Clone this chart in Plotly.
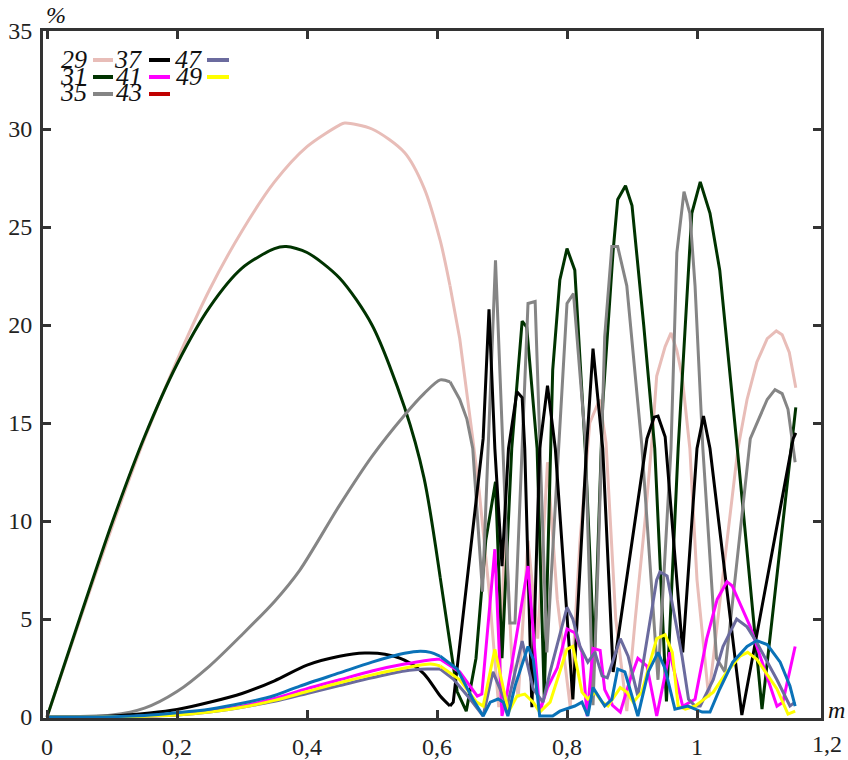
import plotly.graph_objects as go

# ---------------- data ----------------
x29 = [0, 0.05, 0.1, 0.15, 0.2, 0.25, 0.3, 0.35, 0.4, 0.45, 0.458, 0.5, 0.55, 0.58, 0.605, 0.62, 0.635, 0.655,
       0.665, 0.68, 0.69, 0.695, 0.705, 0.715, 0.725, 0.74, 0.755, 0.77, 0.785, 0.805, 0.82, 0.835, 0.85, 0.86,
       0.875, 0.892, 0.905, 0.92, 0.931, 0.938, 0.951, 0.96, 0.969, 0.977, 0.989, 1.0, 1.018, 1.035, 1.048,
       1.063, 1.077, 1.092, 1.108, 1.122, 1.131, 1.142, 1.152]
y29 = [0, 4.9, 9.7, 14.2, 18.2, 21.8, 24.8, 27.3, 29.1, 30.2, 30.3, 30.0, 28.8, 27.0, 24.3, 22.0, 19.3, 14.2,
       11.5, 6.5, 2.5, 0.5, 10, 3, 1, 9, 4, 13, 6, 0.5, 9, 15, 16.2, 14, 5, 0.3, 5, 10, 14.2,
       17.4, 18.9, 19.6, 18.7, 17.4, 13.7, 7, 1.0, 6, 9.5,
       13.7, 16.2, 18.1, 19.3, 19.7, 19.5, 18.6, 16.8]

x31 = [0, 0.05, 0.1, 0.15, 0.2, 0.25, 0.3, 0.35, 0.368, 0.4, 0.45, 0.5, 0.55, 0.58, 0.605, 0.631, 0.645,
       0.66, 0.675, 0.69, 0.70, 0.715, 0.731, 0.738, 0.754, 0.765, 0.778, 0.789, 0.80, 0.812, 0.828, 0.842,
       0.855, 0.871, 0.878, 0.89, 0.90, 0.918, 0.935, 0.953, 0.971, 0.992, 1.005, 1.02, 1.035, 1.062, 1.10, 1.152]
y31 = [0, 5.0, 9.9, 14.3, 18.0, 20.9, 22.9, 23.9, 24.0, 23.7, 22.4, 20.0, 15.8, 12.2, 7.1, 1.3, 0.3,
       3, 9, 12, 3, 13.7, 20.2, 19.9, 13.7, 1, 17.7, 22.3, 23.9, 22.8, 13.7, 3,
       16, 23.8, 26.4, 27.1, 26.1, 20, 13.7, 0.8, 13.7, 25.7, 27.3, 25.7, 22.8, 13.7, 0.4, 15.8]

x35 = [0, 0.1, 0.15, 0.2, 0.25, 0.3, 0.35, 0.389, 0.45, 0.5, 0.55, 0.58, 0.605, 0.62, 0.635, 0.646,
       0.655, 0.67, 0.69, 0.712, 0.72, 0.74, 0.751, 0.769, 0.80, 0.81, 0.828, 0.84, 0.848, 0.858, 0.869,
       0.878, 0.892, 0.915, 0.94, 0.96, 0.969, 0.98, 0.989, 0.997, 1.009, 1.03, 1.043, 1.082, 1.092, 1.108,
       1.12, 1.131, 1.14, 1.148, 1.151]
y35 = [0, 0.1, 0.45, 1.3, 2.6, 4.2, 5.9, 7.5, 10.8, 13.3, 15.4, 16.5, 17.2, 17.1, 16.2, 15.2,
       13.7, 6.4, 23.3, 4.8, 4.8, 21.1, 21.2, 3.3, 21.1, 21.6, 14.2, 0.6, 8, 19.4, 24.0,
       24.0, 22.0, 13.9, 1.9, 13.7, 23.7, 26.8, 25.7, 22.0, 13.7, 3, 2.3, 14.2, 15.0, 16.2,
       16.7, 16.5, 15.7, 13.7, 13.0]

x37 = [0, 0.1, 0.158, 0.2, 0.25, 0.3, 0.35, 0.4, 0.45, 0.489, 0.52, 0.55, 0.58, 0.605, 0.62, 0.625, 0.671,
       0.68, 0.689, 0.70, 0.71, 0.723, 0.731, 0.735, 0.746, 0.758, 0.77, 0.782, 0.809, 0.83, 0.84, 0.855,
       0.871, 0.923, 0.934, 0.94, 0.951, 0.978, 1.0, 1.01, 1.02, 1.069, 1.148, 1.152]
y37 = [0, 0.05, 0.2, 0.38, 0.75, 1.2, 1.85, 2.65, 3.1, 3.26, 3.2, 2.9, 2.2, 1.07, 0.56, 0.76, 14.2,
       20.8, 13.7, 7.7, 13.7, 16.6, 16.3, 13.7, 0.5, 13.7, 16.9, 13.7, 0.9, 13.7, 18.8, 13.7,
       2.3, 14.2, 15.3, 15.35, 14.3, 3.3, 13.7, 15.35, 13.7, 0.1, 14.2, 14.5]

x41 = [0, 0.1, 0.2, 0.25, 0.3, 0.35, 0.4, 0.45, 0.5, 0.55, 0.6, 0.605, 0.635, 0.662, 0.669, 0.689, 0.70,
       0.708, 0.74, 0.758, 0.77, 0.785, 0.80, 0.812, 0.823, 0.831, 0.84, 0.851, 0.858, 0.87, 0.882, 0.897,
       0.909, 0.923, 0.938, 0.958, 0.978, 0.997, 1.015, 1.031, 1.046, 1.054, 1.082, 1.123, 1.132, 1.151]
y41 = [0, 0.01, 0.12, 0.3, 0.55, 0.95, 1.45, 1.9, 2.35, 2.7, 2.95, 2.95, 2.3, 1.07, 1.17, 8.56, 0.05,
       1.27, 7.7, 0.25, 1.5, 2.5, 4.5, 4.3, 3.3, 0.05, 3.5, 3.4, 1.4, 0.6, 0.25, 1.9,
       3.0, 2.6, 0.05, 3.3, 0.55, 0.9, 4.0, 6.0, 6.9, 6.7, 4.6, 0.55, 0.75, 3.6]

x47 = [0, 0.1, 0.2, 0.25, 0.3, 0.35, 0.4, 0.45, 0.5, 0.55, 0.585, 0.605, 0.625, 0.651, 0.671, 0.686, 0.708,
       0.731, 0.748, 0.763, 0.774, 0.8, 0.809, 0.82, 0.832, 0.843, 0.854, 0.862, 0.882, 0.894, 0.909, 0.938,
       0.943, 0.954, 0.966, 0.977, 0.987, 0.997, 1.005, 1.025, 1.04, 1.061, 1.077, 1.092, 1.123, 1.143, 1.151]
y47 = [0, 0.01, 0.1, 0.25, 0.5, 0.8, 1.2, 1.6, 2.0, 2.35, 2.45, 2.45, 1.94, 0.92, 0.05, 2.3, 0.56,
       3.87, 1.43, 0.76, 2.3, 5.6, 5.0, 3.6, 2.8, 3.3, 2.1, 2.0, 4.0, 3.1, 1.07, 7.0,
       7.4, 7.2, 5.1, 3.1, 0.9, 0.56, 0.56, 1.9, 3.6, 5.0, 4.6, 3.8, 1.9, 0.56, 0.76]

x49 = [0, 0.1, 0.2, 0.25, 0.3, 0.35, 0.4, 0.45, 0.5, 0.55, 0.59, 0.605, 0.635, 0.661, 0.671, 0.689, 0.697,
       0.71, 0.723, 0.735, 0.748, 0.758, 0.774, 0.8, 0.809, 0.812, 0.823, 0.832, 0.843, 0.854, 0.863, 0.882,
       0.892, 0.902, 0.915, 0.938, 0.951, 0.962, 0.971, 0.982, 0.997, 1.005, 1.025, 1.046, 1.066, 1.078,
       1.092, 1.123, 1.14, 1.151]
y49 = [0, 0.01, 0.1, 0.25, 0.5, 0.85, 1.3, 1.75, 2.15, 2.5, 2.7, 2.6, 1.9, 0.76, 0.56, 3.46, 2.3,
       0.25, 1.07, 1.17, 0.76, 0.25, 0.76, 3.46, 3.6, 3.1, 1.27, 0.92, 1.27, 0.76, 0.56, 1.5,
       1.27, 0.76, 1.27, 4.0, 4.2, 3.3, 0.56, 0.4, 0.56, 0.76, 1.27, 2.3, 3.1, 3.3,
       2.95, 1.43, 0.15, 0.3]

xb = [0, 0.1, 0.15, 0.2, 0.25, 0.3, 0.35, 0.389, 0.45, 0.5, 0.55, 0.574, 0.59, 0.605, 0.631, 0.655, 0.671,
      0.682, 0.694, 0.702, 0.709, 0.72, 0.74, 0.748, 0.758, 0.778, 0.789, 0.812, 0.823, 0.832, 0.84, 0.858,
      0.869, 0.878, 0.889, 0.909, 0.925, 0.94, 0.951, 0.966, 0.986, 1.008, 1.02, 1.035, 1.055, 1.077,
      1.092, 1.108, 1.128, 1.143, 1.151]
yb = [0, 0.02, 0.08, 0.22, 0.4, 0.7, 1.1, 1.58, 2.25, 2.8, 3.25, 3.36, 3.3, 3.1, 2.45, 0.92, 0.05,
      0.76, 0.92, 0.76, 0.05, 1.58, 3.6, 2.95, 0.05, 0.05, 0.3, 0.56, 0.76, 0.05, 1.5, 0.56,
      0.9, 2.45, 2.3, 0.05, 2.3, 3.3, 2.45, 0.4, 0.56, 0.25, 0.25, 1.43, 2.8, 3.6,
      3.9, 3.7, 2.8, 1.58, 0.56]

series = [
    ("29", x29, y29, "#E8BDB8"),
    ("31", x31, y31, "#003300"),
    ("35", x35, y35, "#858585"),
    ("37", x37, y37, "#000000"),
    ("41", x41, y41, "#FF00FF"),
    ("47", x47, y47, "#6B6B9E"),
    ("49", x49, y49, "#FFFF00"),
    ("", xb, yb, "#0A72B8"),
]

legend_items = [("29", "#E8BDB8"), ("31", "#003300"), ("35", "#858585"),
                ("37", "#000000"), ("41", "#FF00FF"), ("43", "#C00000"),
                ("47", "#6B6B9E"), ("49", "#FFFF00")]

x_ticks = [0, 0.2, 0.4, 0.6, 0.8, 1.0]
x_ticktext = ["0", "0,2", "0,4", "0,6", "0,8", "1"]
y_ticks = [0, 5, 10, 15, 20, 25, 30, 35]

SMOOTH_END = 0.62  # below this m the curves are smooth arcs

# ---------------- figure ----------------
fig = go.Figure()
for name, xs, ys, col in series:
    k = max(i for i, v in enumerate(xs) if v <= SMOOTH_END)
    fig.add_trace(go.Scatter(x=xs[:k + 1], y=ys[:k + 1], mode="lines", name=name,
                             line=dict(color=col, width=3, shape="spline", smoothing=0.8),
                             showlegend=False, hoverinfo="skip"))
    fig.add_trace(go.Scatter(x=xs[k:], y=ys[k:], mode="lines", name=name,
                             line=dict(color=col, width=3), showlegend=False,
                             hoverinfo="skip"))

FONT = "Liberation Serif, Times New Roman, serif"
FIG_W, FIG_H = 848, 760
# plot area in page pixels
L, R, T, B = 43, 821, 31, 718
W, H = R - L, B - T


def px(xp):
    return (xp - L) / W


def py(yp):
    return (B - yp) / H


annotations = []
shapes = []
# legend (three columns)
cols = [(89, 93, 113), (144, 149, 170), (204, 207, 229)]
rows = [(60, 60), (76, 77), (92, 94)]
for i, (lab, col) in enumerate(legend_items):
    c = i // 3
    r = i % 3
    tx, s0, s1 = cols[c]
    ty, sy = rows[r]
    annotations.append(dict(x=px(tx), y=py(ty), xref="paper", yref="paper", text="<i>" + lab + "</i>",
                            showarrow=False, xanchor="right", yanchor="middle",
                            font=dict(family=FONT, size=26, color="#111")))
    shapes.append(dict(type="line", xref="paper", yref="paper",
                       x0=px(s0), x1=px(s1), y0=py(sy), y1=py(sy),
                       line=dict(color=col, width=4)))

annotations.append(dict(x=px(56), y=py(15), xref="paper", yref="paper", text="<i>%</i>",
                        showarrow=False, xanchor="center", yanchor="middle",
                        font=dict(family=FONT, size=24, color="#111")))
annotations.append(dict(x=px(836), y=py(710), xref="paper", yref="paper", text="<i>m</i>",
                        showarrow=False, xanchor="center", yanchor="middle",
                        font=dict(family=FONT, size=24, color="#111")))
annotations.append(dict(x=px(827), y=py(744), xref="paper", yref="paper", text="1,2",
                        showarrow=False, xanchor="center", yanchor="middle",
                        font=dict(family=FONT, size=24, color="#222")))

fig.update_layout(
    width=FIG_W, height=FIG_H,
    margin=dict(l=L, r=FIG_W - R, t=T, b=FIG_H - B, pad=0, autoexpand=False),
    paper_bgcolor="white", plot_bgcolor="white",
    font=dict(family=FONT, size=24, color="#222"),
    annotations=annotations, shapes=shapes,
    showlegend=False,
)
fig.update_xaxes(range=[(L - 47) / 650, (R - 47) / 650], tickvals=x_ticks, ticktext=x_ticktext,
                 automargin=False,
                 showgrid=False, zeroline=False, showline=True, linewidth=3, linecolor="#333",
                 mirror="ticks", ticks="inside", ticklen=8, tickwidth=3, tickcolor="#333",
                 ticklabelstandoff=5)
fig.update_yaxes(range=[-0.05, 35], tickvals=y_ticks, automargin=False,
                 showgrid=False, zeroline=False, showline=True, linewidth=3, linecolor="#333",
                 mirror="ticks", ticks="inside", ticklen=8, tickwidth=3, tickcolor="#333",
                 ticklabelstandoff=3)

fig.write_html(
    "out.html",
    config={"displayModeBar": False, "staticPlot": True},
    post_script="document.body.style.margin='0';document.body.style.overflow='hidden';"
                "document.documentElement.style.overflow='hidden';",
)
